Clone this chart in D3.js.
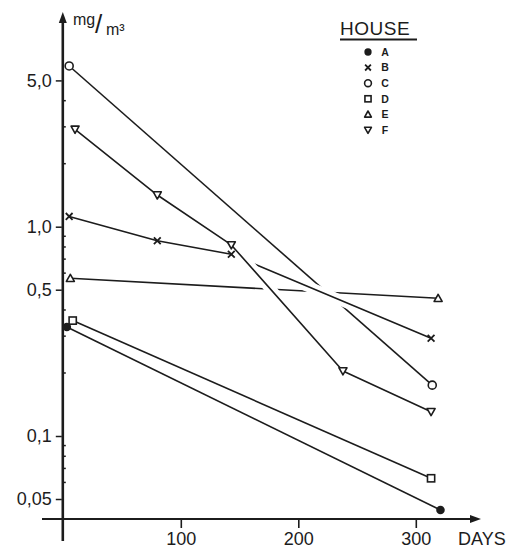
<!DOCTYPE html>
<html><head><meta charset="utf-8">
<script src="https://cdn.jsdelivr.net/npm/d3@7"></script>
<style>
html,body{margin:0;padding:0;background:#fff;}
svg{display:block;font-family:"Liberation Sans",Arial,Helvetica,sans-serif;}
</style></head>
<body>
<svg id="chart" width="513" height="550"></svg>
<script>
// ---- data ----
const houses = ["A","B","C","D","E","F"];
const markerKinds = ["dot","x","circle","square","triUp","triDown"];
const daysA = [3, 321],            valsA = [0.332, 0.0443];
const daysB = [5, 80, 143, 313],   valsB = [1.12, 0.857, 0.738, 0.293];
const daysC = [5, 314],            valsC = [5.86, 0.175];
const daysD = [8, 313],            valsD = [0.356, 0.0628];
const daysE = [6, 319],            valsE = [0.567, 0.455];
const daysF = [10, 80, 143, 238, 313], valsF = [2.92, 1.417, 0.818, 0.2045, 0.1306];
const xTickValues = [100, 200, 300];
const xTickLabels = ["100", "200", "300"];
const yTickValues = [0.05, 0.1, 0.5, 1, 5];
const yTickLabels = ["0,05", "0,1", "0,5", "1,0", "5,0"];
const yMinorTicks = [0.06,0.07,0.08,0.09,0.2,0.3,0.4,0.6,0.7,0.8,0.9,2,3,4];
const xTitle = "DAYS";
const legendTitle = "HOUSE";

// ---- build ----
const ink = "#1c1c1c";
const svg = d3.select("#chart");
const x = d3.scaleLinear().domain([0, 300]).range([63.3, 415.8]);
const y = d3.scaleLog().domain([0.1, 1]).range([436, 226.7]);

const series = {
  A: {days: daysA, vals: valsA, kind: "dot"},
  B: {days: daysB, vals: valsB, kind: "x"},
  C: {days: daysC, vals: valsC, kind: "circle"},
  D: {days: daysD, vals: valsD, kind: "square"},
  E: {days: daysE, vals: valsE, kind: "triUp"},
  F: {days: daysF, vals: valsF, kind: "triDown"}
};

// axes
const axX = x(0) - 0.5, axY = 519;
svg.append("line").attr("x1", axX).attr("x2", axX).attr("y1", 20).attr("y2", 541)
  .attr("stroke", ink).attr("stroke-width", 2.6);
svg.append("path").attr("d", `M${axX},12 L${axX-4},23 L${axX+4},23 Z`).attr("fill", ink);
svg.append("line").attr("x1", 42).attr("x2", 472).attr("y1", axY).attr("y2", axY)
  .attr("stroke", ink).attr("stroke-width", 2);
svg.append("path").attr("d", `M481,${axY} L470,${axY-4} L470,${axY+4} Z`).attr("fill", ink);

const yAxis = d3.axisLeft(y).tickValues(yTickValues)
  .tickFormat((d, i) => yTickLabels[i]).tickSize(6).tickPadding(4);
const gy = svg.append("g").attr("transform", `translate(${axX - 1},0)`).call(yAxis);
gy.select(".domain").remove();
gy.selectAll(".tick line").attr("stroke", ink).attr("stroke-width", 1.5);
gy.selectAll(".tick text").attr("font-size", 18).attr("fill", ink)
  .attr("font-family", "'Liberation Sans',Arial,sans-serif");

svg.append("g").selectAll("line").data(yMinorTicks).join("line")
  .attr("x1", axX + 1).attr("x2", axX + 3)
  .attr("y1", d => y(d)).attr("y2", d => y(d))
  .attr("stroke", ink).attr("stroke-width", 1.5);

const xAxis = d3.axisBottom(x).tickValues(xTickValues)
  .tickFormat((d, i) => xTickLabels[i]).tickSize(9).tickPadding(4);
const gx = svg.append("g").attr("transform", `translate(0,${axY})`).call(xAxis);
gx.select(".domain").remove();
gx.selectAll(".tick line").attr("stroke", ink).attr("stroke-width", 1.6);
gx.selectAll(".tick text").attr("font-size", 18).attr("fill", ink)
  .attr("font-family", "'Liberation Sans',Arial,sans-serif");

svg.append("text").attr("x", 458).attr("y", 545).attr("font-size", 18)
  .attr("fill", ink).text(xTitle);

// unit label mg/m³
const unit = svg.append("g").attr("fill", ink);
unit.append("text").attr("x", 73).attr("y", 25).attr("font-size", 16).text("mg");
unit.append("text").attr("x", 95).attr("y", 33).attr("font-size", 26).text("/");
unit.append("text").attr("x", 106).attr("y", 35).attr("font-size", 16).text("m³");

// lines (with white halos producing breaks at crossings)
const line = d3.line().x(d => x(d[0])).y(d => y(d[1]));
const drawOrder = ["A", "D", "E", "C", "B", "F"];
const haloed = new Set(["C", "B", "F"]);
const gl = svg.append("g");
drawOrder.forEach(k => {
  const s = series[k];
  const pts = s.days.map((d, i) => [d, s.vals[i]]);
  if (haloed.has(k)) {
    gl.append("path").attr("d", line(pts)).attr("fill", "none")
      .attr("stroke", "#fff").attr("stroke-width", 11).attr("stroke-linejoin", "round");
  }
  gl.append("path").attr("d", line(pts)).attr("fill", "none")
    .attr("stroke", ink).attr("stroke-width", 1.6).attr("stroke-linejoin", "round");
});

// markers
function drawMarker(g, kind, cx, cy, s) {
  s = s || 1;
  if (kind === "dot") {
    g.append("circle").attr("cx", cx).attr("cy", cy).attr("r", 4.3 * s).attr("fill", ink);
  } else if (kind === "circle") {
    g.append("circle").attr("cx", cx).attr("cy", cy).attr("r", 4 * s)
      .attr("fill", "#fff").attr("stroke", ink).attr("stroke-width", 1.6);
  } else if (kind === "square") {
    const h = 3.6 * s;
    g.append("rect").attr("x", cx - h).attr("y", cy - h).attr("width", 2 * h).attr("height", 2 * h)
      .attr("fill", "#fff").attr("stroke", ink).attr("stroke-width", 1.6);
  } else if (kind === "triUp" || kind === "triDown") {
    const h = 4 * s, dir = kind === "triUp" ? 1 : -1;
    g.append("path")
      .attr("d", `M${cx},${cy - dir * h} L${cx - h},${cy + dir * h * 0.8} L${cx + h},${cy + dir * h * 0.8} Z`)
      .attr("fill", "#fff").attr("stroke", ink).attr("stroke-width", 1.6).attr("stroke-linejoin", "round");
  } else if (kind === "x") {
    const h = 3.4 * s;
    g.append("path").attr("d", `M${cx - h},${cy - h} L${cx + h},${cy + h} M${cx + h},${cy - h} L${cx - h},${cy + h}`)
      .attr("stroke", ink).attr("stroke-width", 1.8).attr("fill", "none");
  }
}
const gm = svg.append("g");
houses.forEach(k => {
  const s = series[k];
  s.days.forEach((d, i) => drawMarker(gm, s.kind, x(d), y(s.vals[i]), 1));
});

// legend
const lg = svg.append("g");
lg.append("text").attr("x", 340).attr("y", 35).attr("font-size", 19)
  .attr("fill", ink).attr("letter-spacing", 0.5).text(legendTitle);
lg.append("line").attr("x1", 340).attr("x2", 417).attr("y1", 39.5).attr("y2", 39.5)
  .attr("stroke", ink).attr("stroke-width", 2);
const ly = d3.scalePoint().domain(houses).range([52, 130]);
houses.forEach((k, i) => {
  drawMarker(lg, markerKinds[i], 368, ly(k), 0.85);
  lg.append("text").attr("x", 385).attr("y", ly(k)).attr("dy", "0.36em")
    .attr("text-anchor", "middle").attr("font-size", 10.5).attr("font-weight", "bold")
    .attr("fill", ink).text(k);
});
</script>
</body></html>
